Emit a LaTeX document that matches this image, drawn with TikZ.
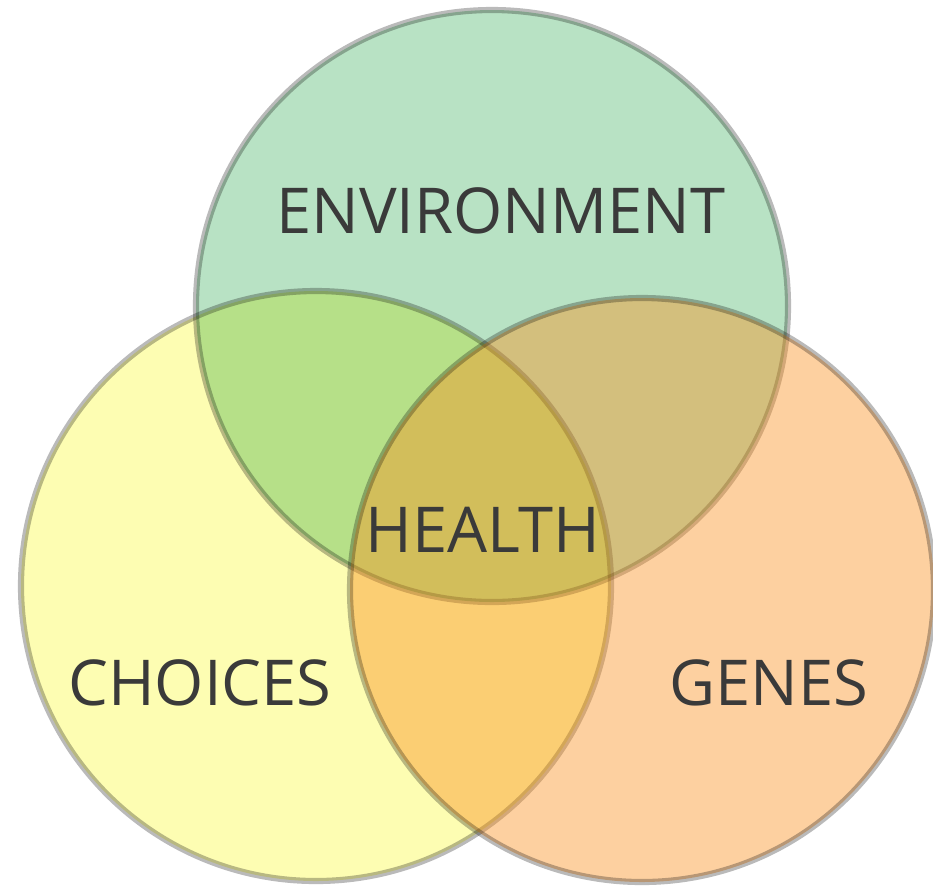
\documentclass[tikz,border=0pt]{standalone}
\usepackage{fontspec}
\setmainfont{Open Sans}
\usepackage{tikz}
\usetikzlibrary{positioning}
\definecolor{envgreen}{RGB}{184,226,196}
\definecolor{choiceyellow}{RGB}{253,253,178}
\definecolor{geneorange}{RGB}{250,143,29}
\definecolor{labelgray}{RGB}{58,58,58}
\tikzstyle{ring} = [circle, minimum size=590, inner sep=0pt, draw=black, draw opacity=0.27, line width=3.5]
\tikzstyle{word} = [text=labelgray, font=\fontsize{36}{40}\selectfont, inner sep=0pt]

\begin{document}
\begin{tikzpicture}[x=0.02cm, y=-0.02cm]
			\useasboundingbox (0,0) rectangle (933,887);
			\node (env) [ring, fill=envgreen, minimum size=592*0.02cm] at (492,306) {};
			\node (choices) [ring, fill=choiceyellow, blend mode=multiply, minimum size=590*0.02cm] at (316,586) {};
			\node (genes) [ring, fill=geneorange, fill opacity=0.42, minimum size=584*0.02cm] at (642,590) {};
			
			\node (envlabel) [word] at (501,211) {ENVIRONMENT};
			\node (health) [word] at (483,530) {HEALTH};
			\node (choiceslabel) [word] at (200,683) {CHOICES};
			\node (geneslabel) [word] at (769,683) {GENES};
			\end{tikzpicture}
\end{document}
